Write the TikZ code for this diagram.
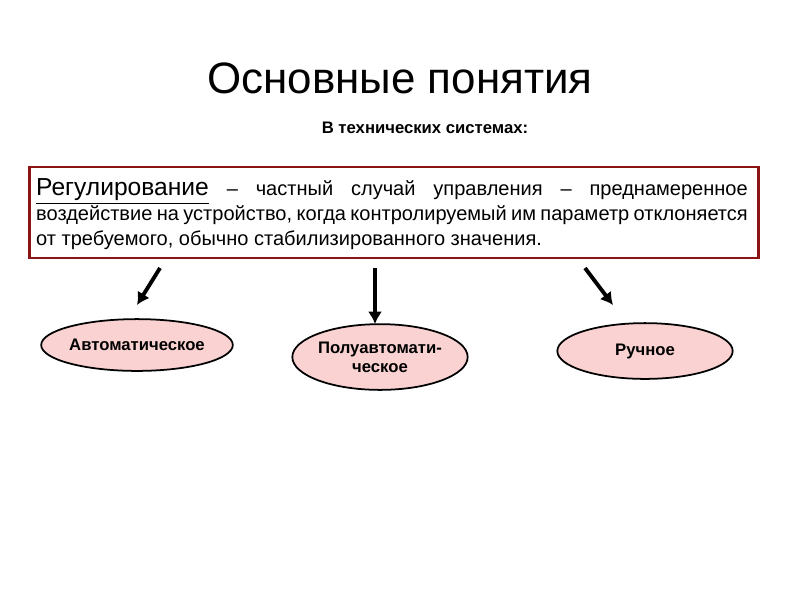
\documentclass[tikz,border=0pt]{standalone}
\usepackage{fontspec}
\setmainfont{Liberation Sans}
\usetikzlibrary{shapes.geometric}
\definecolor{boxred}{RGB}{140,20,20}
\definecolor{pinkfill}{RGB}{250,210,210}
\tikzset{
  oval/.style={ellipse,draw=black,fill=pinkfill,line width=1pt,font=\bfseries\fontsize{9.5}{11}\selectfont,align=center,inner sep=0pt},
  bigarrow/.style={-{Latex[length=7pt,width=8pt]},line width=2.2pt}
}
\usetikzlibrary{arrows.meta}
\begin{document}
\begin{tikzpicture}[x=0.02cm,y=-0.02cm]
\useasboundingbox (0,0) rectangle (800,600);
\node (title) at (400,78) {\fontsize{25}{28}\selectfont Основные понятия};
\node (sub) at (425,128) {\bfseries\fontsize{9.5}{11}\selectfont В технических системах:};
\node[draw=boxred,line width=1.3pt,minimum width=732*0.567pt,minimum height=91*0.567pt,inner sep=0pt] (box) at (394,212.5) {};
\node[text width=405pt,align=justify,inner sep=0pt] (txt) at (392,214) {\fontsize{11.4}{14.2}\selectfont {\fontsize{14}{14}\selectfont\underline{Регулирование}} -- частный случай управления -- преднамеренное воздействие на устройство, когда контролируемый им параметр отклоняется от требуемого, обычно стабилизированного значения.\par};
\node[oval,minimum width=180*0.567pt,minimum height=52*0.567pt] (e1) at (137,345) {Автоматическое};
\node[oval,minimum width=176*0.567pt,minimum height=66*0.567pt] (e2) at (380,357) {Полуавтомати-\\ческое};
\node[oval,minimum width=176*0.567pt,minimum height=56*0.567pt] (e3) at (645,351) {Ручное};
\coordinate (a1) at (160,268); \coordinate (b1) at (137,305);
\coordinate (a2) at (375,268); \coordinate (b2) at (375,324);
\coordinate (a3) at (585,268); \coordinate (b3) at (613,305);
\draw[bigarrow] (a1) -- (b1);
\draw[bigarrow] (a2) -- (b2);
\draw[bigarrow] (a3) -- (b3);
\end{tikzpicture}
\end{document}
